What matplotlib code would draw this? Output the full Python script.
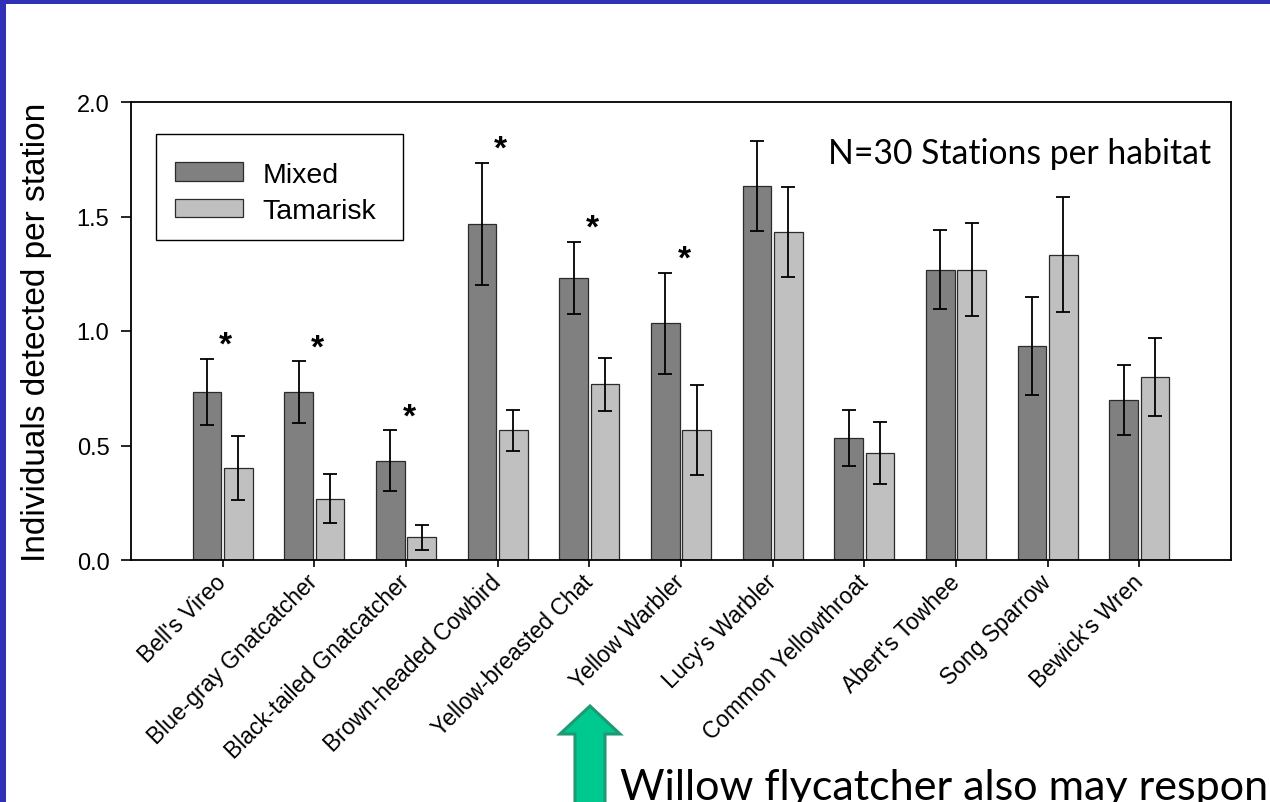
import matplotlib
matplotlib.use("Agg")
import matplotlib.pyplot as plt
import numpy as np
from matplotlib.patches import Patch, Rectangle, FancyArrow

# --- data -------------------------------------------------------------
species = ["Bell's Vireo", "Blue-gray Gnatcatcher", "Black-tailed Gnatcatcher",
           "Brown-headed Cowbird", "Yellow-breasted Chat", "Yellow Warbler",
           "Lucy's Warbler", "Common Yellowthroat", "Abert's Towhee",
           "Song Sparrow", "Bewick's Wren"]
mixed_mean = [0.733, 0.733, 0.433, 1.467, 1.233, 1.033, 1.633, 0.533, 1.267, 0.933, 0.700]
mixed_se = [0.145, 0.135, 0.133, 0.267, 0.157, 0.222, 0.195, 0.124, 0.172, 0.214, 0.153]
tamarisk_mean = [0.400, 0.267, 0.100, 0.567, 0.767, 0.567, 1.433, 0.467, 1.267, 1.333, 0.800]
tamarisk_se = [0.140, 0.107, 0.055, 0.090, 0.115, 0.197, 0.197, 0.134, 0.203, 0.250, 0.169]
significant = [True, True, True, True, True, True, False, False, False, False, False]
y_ticks = [0.0, 0.5, 1.0, 1.5, 2.0]

W, H = 1270, 803
fig = plt.figure(figsize=(W / 100, H / 100), dpi=100)
fig.patch.set_facecolor("white")

ARIAL = ["Liberation Sans", "DejaVu Sans"]
CALIBRI = ["Lato", "DejaVu Sans"]

# slide frame
blue = "#3131b7"
fig.add_artist(Rectangle((0, 1 - 5 / H), 1, 5 / H, transform=fig.transFigure,
                         color=blue, lw=0, zorder=0))
fig.add_artist(Rectangle((0, 0), 6 / W, 1, transform=fig.transFigure,
                         color=blue, lw=0, zorder=0))

ax = fig.add_axes([131 / W, 1 - 561 / H, 1100 / W, 458 / H])
x = np.arange(len(species))
bw = 0.316
off = 0.171
err_kw = dict(ecolor="black", elinewidth=1.3, capsize=4.7, capthick=1.3)
ax.bar(x - off, mixed_mean, bw, yerr=mixed_se, color="#808080",
       edgecolor="#2b2b2b", linewidth=0.9, error_kw=err_kw, zorder=2)
ax.bar(x + off, tamarisk_mean, bw, yerr=tamarisk_se, color="#c0c0c0",
       edgecolor="#2b2b2b", linewidth=0.9, error_kw=err_kw, zorder=2)

# significance marks above the mixed-habitat error bars
for i, sig in enumerate(significant):
    if sig:
        ax.annotate("*", xy=(x[i], mixed_mean[i] + mixed_se[i]),
                    xytext=(3, 5), textcoords="offset pixels",
                    ha="center", va="baseline", fontsize=24, fontweight="bold",
                    family=ARIAL, color="black")

ax.set_xlim(-1.0, 11.0)
ax.set_ylim(0, 2.0)
ax.set_yticks(y_ticks)
ax.set_yticklabels([f"{v:.1f}" for v in y_ticks], family=ARIAL, fontsize=17)
ax.set_xticks(x)
ax.set_xticklabels(species, rotation=45, ha="right", va="center",
                   rotation_mode="anchor", family=ARIAL, fontsize=16.5)
ax.tick_params(axis="y", direction="out", length=7.5, width=1.2, pad=8)
ax.tick_params(axis="x", direction="out", length=5, width=1.2, pad=8)
for s in ax.spines.values():
    s.set_linewidth(1.3)
    s.set_color("black")

ax.set_ylabel("Individuals detected per station", family=ARIAL, fontsize=24)
ax.yaxis.set_label_coords(-0.072, 0.5)

# legend entries, with a plain box drawn around them
handles = [Patch(facecolor="#808080", edgecolor="#2b2b2b", lw=0.9, label="Mixed"),
           Patch(facecolor="#c0c0c0", edgecolor="#2b2b2b", lw=0.9, label="Tamarisk")]
leg = ax.legend(handles=handles, loc="upper left",
                bbox_to_anchor=((156 - 131) / 1100, (561 - 144) / 458),
                borderaxespad=0, frameon=False,
                prop={"family": ARIAL, "size": 20.5}, handlelength=2.42,
                handleheight=0.6, handletextpad=0.67, borderpad=0.65,
                labelspacing=0.36)
fig.add_artist(Rectangle((156 / W, 1 - 241 / H), 247 / W, 106 / H,
                         transform=fig.transFigure, fill=False,
                         edgecolor="black", lw=1.0, zorder=4))

note = fig.text(828 / W, 1 - 164 / H, "N=30 Stations per habitat",
                family=CALIBRI, fontsize=26, ha="left", va="baseline")
caption = fig.text(620 / W, 1 - 800 / H, "Willow flycatcher also may respon",
                   family=CALIBRI, fontsize=34, ha="left", va="baseline")

# scale the two notes to their measured widths
renderer = fig.canvas.get_renderer()
for t, target in ((note, 382), (caption, 652)):
    w = t.get_window_extent(renderer).width
    t.set_fontsize(t.get_fontsize() * target / w)
caption.set_text("Willow flycatcher also may respond")

# upward pointer
fig.add_artist(FancyArrow(590 / W, -20 / H, 0, (20 + 803 - 707) / H,
                          width=30 / W, head_width=60 / W, head_length=28 / H,
                          length_includes_head=True, transform=fig.transFigure,
                          facecolor="#00c990", edgecolor="#1e9974", lw=2.2,
                          zorder=5))

fig.savefig("out.png", dpi=100, facecolor="white")
